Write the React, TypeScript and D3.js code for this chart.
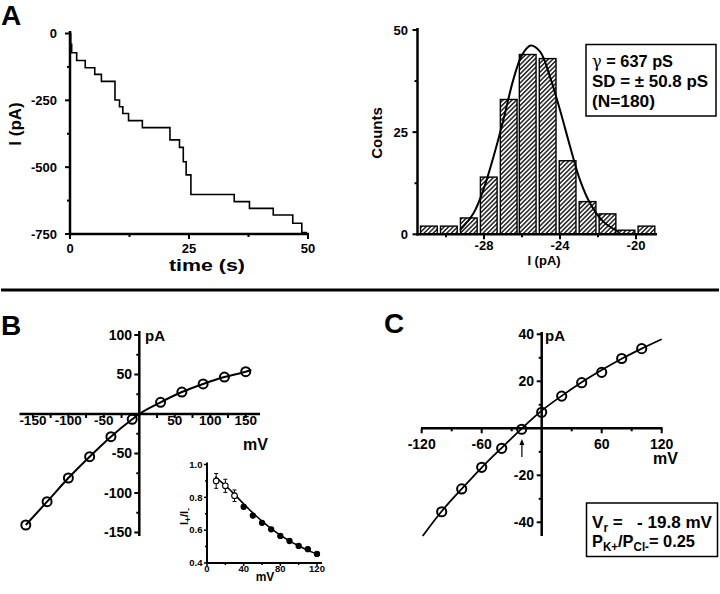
import React from 'react';
import * as d3 from 'd3';

// ---------- Panel A (left): current trace, step levels ----------
const traceTimes = [0, 0.15, 0.35, 1.4, 3.2, 5.2, 6.6, 9.45, 10.4, 11.1, 12.3, 15.2, 21.0, 23.0, 23.8, 24.4, 25.4, 34.5, 37.7, 42.7, 46.8, 48.7];
const traceLevels = [0, -40, -72, -101, -128, -153, -179, -249, -274, -299, -326, -352, -398, -426, -480, -529, -602, -629, -654, -679, -710, -745];
const traceEnd = 49.8;
const traceYTicks = [0, -250, -500, -750];
const traceYMinor = [-125, -375, -625];
const traceXTicks = [0, 25, 50];
const traceXMinor = [12.5, 37.5];

// ---------- Panel A (right): amplitude histogram ----------
const histCenters = [-30.9, -29.85, -28.8, -27.75, -26.7, -25.7, -24.65, -23.6, -22.55, -21.5, -20.5, -19.45];
const histCounts = [2, 2, 4, 14, 33, 44, 43, 18, 8, 5, 1, 2];
const gaussX = [-29.26, -28.56, -28.04, -27.5, -26.98, -26.46, -26.0, -25.54, -25.05, -24.53, -24.0, -23.47, -22.95, -22.42, -21.72, -20.93];
const gaussY = [1.06, 5.1, 10.8, 19, 28, 37.8, 43.9, 46.2, 44.7, 38.6, 30.4, 21.5, 13.3, 7.6, 3.1, 0.65];
const histYTicks = [0, 25, 50];
const histYMinor = [12.5, 37.5];
const histXTicks = [-28, -24, -20];
const histXMinor = [-30, -26, -22];

// ---------- Panel B: I-V ----------
const ivBV = [-160, -130, -100, -70, -40, -10, 30, 60, 90, 120, 150];
const ivBI = [-140.5, -111, -81, -54, -28.7, -6.7, 14.8, 27.8, 38, 46.8, 53.5];
const ivBFitV = [-160, -130, -100, -70, -40, -10, 0, 30, 60, 90, 120, 150, 158];
const ivBFitI = [-140.5, -111, -81, -54, -28.7, -6.7, 0, 14.8, 27.8, 38, 46.8, 53.5, 55.7];
const ivBXTicks = [-150, -100, -50, 50, 100, 150];
const ivBXMinor = [-125, -75, -25, 25, 75, 125];
const ivBYTicks = [100, 50, -50, -100, -150];
const ivBYMinor = [75, 25, -25, -75, -125];

// ---------- Panel B inset: I+/I- ratio ----------
const insetV = [10, 20, 30, 40, 50, 60, 70, 80, 90, 100, 110, 120];
const insetR = [0.90, 0.87, 0.81, 0.742, 0.689, 0.645, 0.605, 0.565, 0.534, 0.504, 0.484, 0.455];
const insetErr = [0.045, 0.04, 0.035, 0.012, 0.01, 0.008, 0.006, 0.006, 0.006, 0.006, 0.006, 0.006];
const insetOpen = [true, true, true, false, false, false, false, false, false, false, false, false];
const insetFitV = [9, 20, 30, 40, 50, 60, 70, 80, 90, 100, 110, 123];
const insetFitR = [0.925, 0.872, 0.818, 0.76, 0.705, 0.655, 0.61, 0.57, 0.535, 0.505, 0.477, 0.448];
const insetYTicks = [0.4, 0.6, 0.8, 1.0];
const insetYMinor = [0.5, 0.7, 0.9];
const insetXTicks = [0, 40, 80, 120];
const insetXMinor = [20, 60, 100];

// ---------- Panel C: I-V ----------
const ivCV = [-100, -80, -60, -40, -20, 0, 20, 40, 60, 80, 100];
const ivCI = [-35.5, -25.8, -16.6, -8.5, -0.4, 6.8, 13.7, 19.4, 23.8, 29.7, 33.9];
const ivCFitV = [-119, -100, -80, -60, -40, -20, 0, 20, 40, 60, 80, 100, 120];
const ivCFitI = [-45.8, -35.3, -25.8, -16.7, -8.3, -0.1, 7.5, 13.8, 19.6, 24.8, 29.6, 33.9, 37.9];
const reversalV = -19.8;
const ivCXTicks = [-120, -60, 60, 120];
const ivCXMinor = [-90, -30, 30, 90];
const ivCYTicks = [40, 20, -20, -40];
const ivCYMinor = [30, 10, -10, -30];

const F = "'Liberation Sans', Arial, Helvetica, sans-serif";
const K = '#000';

type Sc = d3.ScaleLinear<number, number>;

function VTicks({ scale, x, values, len, w = 2 }: { scale: Sc; x: number; values: number[]; len: number; w?: number }) {
  return (
    <g>
      {values.map((v) => (
        <line key={v} x1={x - len} x2={x} y1={scale(v)} y2={scale(v)} stroke={K} strokeWidth={w} />
      ))}
    </g>
  );
}

function HTicks({ scale, y, values, len, w = 2 }: { scale: Sc; y: number; values: number[]; len: number; w?: number }) {
  return (
    <g>
      {values.map((v) => (
        <line key={v} x1={scale(v)} x2={scale(v)} y1={y} y2={y + len} stroke={K} strokeWidth={w} />
      ))}
    </g>
  );
}

export default function App() {
  // Panel A left
  const xA = d3.scaleLinear([0, 50], [70, 308]);
  const yA = d3.scaleLinear([-750, 0], [234, 33.5]);
  const tracePts: [number, number][] = traceTimes.map((t, i) => [t, traceLevels[i]]);
  tracePts.push([traceEnd, traceLevels[traceLevels.length - 1]]);
  const tracePath = d3.line<[number, number]>().x((d) => xA(d[0])).y((d) => yA(d[1])).curve(d3.curveStepAfter)(tracePts) || '';

  // Panel A right
  const xH = d3.scaleLinear([-28, -24], [484, 560]);
  const yH = d3.scaleLinear([0, 50], [234.3, 30]);
  const gaussPath = d3.line<number>().x((d, i) => xH(gaussX[i])).y((d, i) => yH(gaussY[i])).curve(d3.curveCatmullRom)(gaussX) || '';
  const halfBin = 0.44;

  // Panel B
  const xB = d3.scaleLinear([0, 150], [139.3, 245.7]);
  const yB = d3.scaleLinear([-150, 100], [532.5, 335]);
  const bFit = d3.line<number>().x((d, i) => xB(ivBFitV[i])).y((d, i) => yB(ivBFitI[i])).curve(d3.curveMonotoneX)(ivBFitV) || '';

  // Inset
  const xI = d3.scaleLinear([0, 120], [207, 317]);
  const yI = d3.scaleLinear([0.4, 1.0], [563, 464.5]);
  const iFit = d3.line<number>().x((d, i) => xI(insetFitV[i])).y((d, i) => yI(insetFitR[i])).curve(d3.curveMonotoneX)(insetFitV) || '';

  // Panel C
  const xC = d3.scaleLinear([-120, 120], [421.7, 661.7]);
  const yC = d3.scaleLinear([-40, 40], [522.3, 334.3]);
  const cFit = d3.line<number>().x((d, i) => xC(ivCFitV[i])).y((d, i) => yC(ivCFitI[i])).curve(d3.curveMonotoneX)(ivCFitV) || '';
  const arrowX = xC(reversalV);

  const txt = { fontFamily: F, fontWeight: 700 as const, fill: K };

  return (
    <svg width={720} height={594} style={{ position: 'absolute', left: 0, top: 0, background: '#fff' }} xmlns="http://www.w3.org/2000/svg">
      <defs>
        <pattern id="hatch" patternUnits="userSpaceOnUse" width={3.2} height={3.2} patternTransform="rotate(45)">
          <rect width={3.2} height={3.2} fill="#fff" />
          <line x1={0.8} y1={0} x2={0.8} y2={3.2} stroke={K} strokeWidth={1.3} />
        </pattern>
      </defs>
      <rect width={720} height={594} fill="#fff" />

      {/* ===== Panel letters ===== */}
      <text x={1} y={25} style={txt} fontSize={28}>A</text>
      <text x={1} y={335} style={txt} fontSize={28}>B</text>
      <text x={384} y={333} style={txt} fontSize={28}>C</text>

      {/* ===== Panel A left ===== */}
      <g>
        <path d={tracePath} fill="none" stroke={K} strokeWidth={1.6} />
        <line x1={70} x2={70} y1={31} y2={235.5} stroke={K} strokeWidth={2.5} />
        <line x1={68.8} x2={309} y1={234} y2={234} stroke={K} strokeWidth={2.5} />
        <VTicks scale={yA} x={70} values={traceYTicks} len={5} />
        <VTicks scale={yA} x={70} values={traceYMinor} len={3} />
        <HTicks scale={xA} y={234} values={traceXTicks} len={5} />
        <HTicks scale={xA} y={234} values={traceXMinor} len={3} />
        {traceYTicks.map((v) => (
          <text key={v} x={57} y={yA(v)} dy="0.35em" textAnchor="end" style={txt} fontSize={13}>{v}</text>
        ))}
        {traceXTicks.map((v) => (
          <text key={v} x={xA(v)} y={253} textAnchor="middle" style={txt} fontSize={13}>{v}</text>
        ))}
        <text x={207} y={270.5} textAnchor="middle" style={txt} fontSize={16} textLength={76} lengthAdjust="spacingAndGlyphs">time (s)</text>
        <text transform="translate(21,124) rotate(-90)" textAnchor="middle" style={txt} fontSize={17}>I (pA)</text>
      </g>

      {/* ===== Panel A right ===== */}
      <g>
        {histCenters.map((c, i) => (
          <rect key={i} x={xH(c - halfBin)} y={yH(histCounts[i])} width={xH(c + halfBin) - xH(c - halfBin)} height={yH(0) - yH(histCounts[i])}
            fill="url(#hatch)" stroke={K} strokeWidth={1.4} />
        ))}
        <path d={gaussPath} fill="none" stroke={K} strokeWidth={2} />
        <line x1={417.5} x2={417.5} y1={28} y2={235.5} stroke={K} strokeWidth={2.5} />
        <line x1={416.3} x2={657} y1={234.3} y2={234.3} stroke={K} strokeWidth={2.5} />
        <VTicks scale={yH} x={417.5} values={histYTicks} len={5} />
        <VTicks scale={yH} x={417.5} values={histYMinor} len={3} />
        <HTicks scale={xH} y={234.3} values={histXTicks} len={5} />
        <HTicks scale={xH} y={234.3} values={histXMinor} len={3} />
        {histYTicks.map((v) => (
          <text key={v} x={408} y={yH(v)} dy="0.35em" textAnchor="end" style={txt} fontSize={13}>{v}</text>
        ))}
        {histXTicks.map((v) => (
          <text key={v} x={xH(v)} y={250} textAnchor="middle" style={txt} fontSize={13}>{v}</text>
        ))}
        <text x={544} y={265} textAnchor="middle" style={txt} fontSize={13}>I (pA)</text>
        <text transform="translate(382,133) rotate(-90)" textAnchor="middle" style={txt} fontSize={15}>Counts</text>
        <rect x={586} y={44.5} width={130} height={71.5} fill="#fff" stroke={K} strokeWidth={1.5} />
        <text x={592} y={66.7} style={{ ...txt, whiteSpace: 'pre' }} fontSize={17} textLength={81} lengthAdjust="spacingAndGlyphs">
          <tspan fontFamily="'DejaVu Serif', serif" fontWeight={400}>γ</tspan> = 637 pS
        </text>
        <text x={592} y={87.3} style={txt} fontSize={17} textLength={116} lengthAdjust="spacingAndGlyphs">SD = ± 50.8 pS</text>
        <text x={592} y={107} style={txt} fontSize={17} textLength={63} lengthAdjust="spacingAndGlyphs">(N=180)</text>
      </g>

      {/* ===== separator ===== */}
      <line x1={1} x2={719} y1={290} y2={290} stroke={K} strokeWidth={3} />

      {/* ===== Panel B ===== */}
      <g>
        <line x1={19.5} x2={260} y1={yB(0)} y2={yB(0)} stroke={K} strokeWidth={2.5} />
        <line x1={139.3} x2={139.3} y1={331} y2={536} stroke={K} strokeWidth={2.5} />
        <HTicks scale={xB} y={yB(0)} values={ivBXTicks} len={4} />
        <HTicks scale={xB} y={yB(0)} values={ivBXMinor} len={4} />
        <VTicks scale={yB} x={139.3} values={ivBYTicks} len={5} />
        <VTicks scale={yB} x={139.3} values={ivBYMinor} len={3} />
        {ivBXTicks.map((v) => (
          <text key={v} x={xB(v)} y={424.5} textAnchor="middle" style={txt} fontSize={13.5}>{v}</text>
        ))}
        {ivBYTicks.map((v) => (
          <text key={v} x={132} y={yB(v)} dy="0.35em" textAnchor="end" style={txt} fontSize={14}>{v}</text>
        ))}
        <text x={145} y={340.5} style={txt} fontSize={15}>pA</text>
        <text x={243} y={450} style={txt} fontSize={16}>mV</text>
        <path d={bFit} fill="none" stroke={K} strokeWidth={2} />
        {ivBV.map((v, i) => (
          <circle key={v} cx={xB(v)} cy={yB(ivBI[i])} r={4.5} fill="none" stroke={K} strokeWidth={2} />
        ))}
      </g>

      {/* ===== Inset ===== */}
      <g>
        <line x1={207} x2={207} y1={462.5} y2={564} stroke={K} strokeWidth={2} />
        <line x1={206} x2={322} y1={563} y2={563} stroke={K} strokeWidth={2} />
        <VTicks scale={yI} x={207} values={insetYTicks} len={3} w={1.5} />
        <VTicks scale={yI} x={207} values={insetYMinor} len={2} w={1.5} />
        <HTicks scale={xI} y={563} values={insetXTicks} len={3} w={1.5} />
        <HTicks scale={xI} y={563} values={insetXMinor} len={2} w={1.5} />
        {insetYTicks.map((v) => (
          <text key={v} x={202.5} y={yI(v)} dy="0.35em" textAnchor="end" style={txt} fontSize={9.5}>{v.toFixed(1)}</text>
        ))}
        {insetXTicks.map((v) => (
          <text key={v} x={xI(v)} y={572} textAnchor="middle" style={txt} fontSize={9.5}>{v}</text>
        ))}
        <text x={265} y={580.5} textAnchor="middle" style={txt} fontSize={12}>mV</text>
        <text transform="translate(188,516.5) rotate(-90)" textAnchor="middle" style={txt} fontSize={11}>
          I<tspan fontSize={8.5} dy={2.5}>+</tspan><tspan dy={-2.5}>/I</tspan><tspan fontSize={8.5} dy={2.5}>-</tspan>
        </text>
        <path d={iFit} fill="none" stroke={K} strokeWidth={1.6} />
        {insetV.map((v, i) => (
          <g key={v}>
            <line x1={xI(v)} x2={xI(v)} y1={yI(insetR[i] + insetErr[i])} y2={yI(insetR[i] - insetErr[i])} stroke={K} strokeWidth={1} />
            <line x1={xI(v) - 2} x2={xI(v) + 2} y1={yI(insetR[i] + insetErr[i])} y2={yI(insetR[i] + insetErr[i])} stroke={K} strokeWidth={1} />
            <line x1={xI(v) - 2} x2={xI(v) + 2} y1={yI(insetR[i] - insetErr[i])} y2={yI(insetR[i] - insetErr[i])} stroke={K} strokeWidth={1} />
            <circle cx={xI(v)} cy={yI(insetR[i])} r={insetOpen[i] ? 2.8 : 2.6} fill={insetOpen[i] ? '#fff' : K} stroke={K} strokeWidth={1.1} />
          </g>
        ))}
      </g>

      {/* ===== Panel C ===== */}
      <g>
        <line x1={421} x2={662.5} y1={yC(0)} y2={yC(0)} stroke={K} strokeWidth={2.5} />
        <line x1={541.7} x2={541.7} y1={332} y2={536} stroke={K} strokeWidth={2.5} />
        <HTicks scale={xC} y={yC(0)} values={ivCXTicks} len={5} />
        <HTicks scale={xC} y={yC(0)} values={ivCXMinor} len={3} />
        <VTicks scale={yC} x={541.7} values={ivCYTicks} len={5} />
        <VTicks scale={yC} x={541.7} values={ivCYMinor} len={3} />
        {ivCXTicks.map((v) => (
          <text key={v} x={xC(v)} y={448.5} textAnchor="middle" style={txt} fontSize={14}>{v}</text>
        ))}
        {ivCYTicks.map((v) => (
          <text key={v} x={534} y={yC(v)} dy="0.35em" textAnchor="end" style={txt} fontSize={14}>{v}</text>
        ))}
        <text x={545} y={341} style={txt} fontSize={15}>pA</text>
        <text x={653} y={464} style={txt} fontSize={16}>mV</text>
        <path d={cFit} fill="none" stroke={K} strokeWidth={1.8} />
        {ivCV.map((v, i) => (
          <circle key={v} cx={xC(v)} cy={yC(ivCI[i])} r={4.6} fill="none" stroke={K} strokeWidth={2} />
        ))}
        <line x1={arrowX} x2={arrowX} y1={457} y2={443} stroke={K} strokeWidth={1.2} />
        <path d={`M${arrowX - 2.5},${445} L${arrowX},${439} L${arrowX + 2.5},${445} Z`} fill={K} />
        <rect x={586.5} y={503} width={131} height={53.5} fill="#fff" stroke={K} strokeWidth={1.5} />
        <text x={592} y={528} style={{ ...txt, whiteSpace: 'pre' }} fontSize={17} textLength={120} lengthAdjust="spacingAndGlyphs">
          V<tspan fontSize={12} dy={4}>r</tspan><tspan dy={-4}>{' =   - 19.8 mV'}</tspan>
        </text>
        <text x={592} y={546.5} style={{ ...txt, whiteSpace: 'pre' }} fontSize={17} textLength={103} lengthAdjust="spacingAndGlyphs">
          P<tspan fontSize={12} dy={4}>K+</tspan><tspan dy={-4}>/P</tspan><tspan fontSize={12} dy={4}>Cl-</tspan><tspan dy={-4}>= 0.25</tspan>
        </text>
      </g>
    </svg>
  );
}
